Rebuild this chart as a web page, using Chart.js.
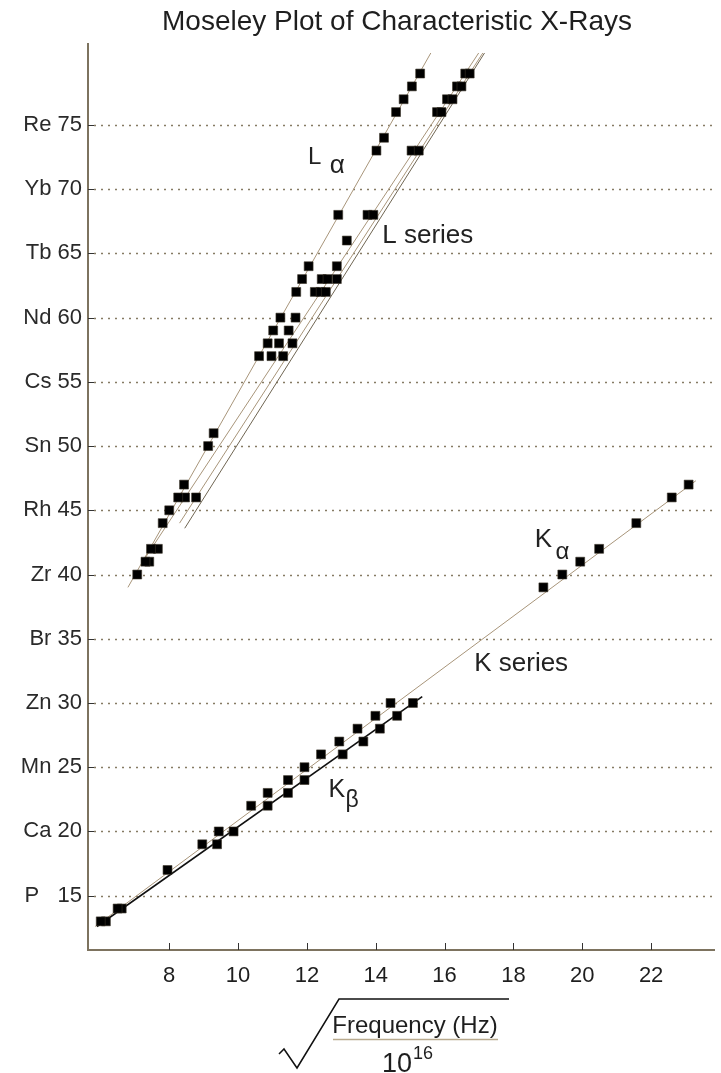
<!DOCTYPE html>
<html>
<head>
<meta charset="utf-8">
<title>Moseley Plot</title>
<script src="https://cdn.jsdelivr.net/npm/chart.js@4.4.1/dist/chart.umd.min.js"></script>
<style>
  html, body { margin: 0; padding: 0; background: #fff; }
  canvas { display: block; }
</style>
</head>
<body>
<canvas id="moseley" width="721" height="1073"></canvas>
<script>
// x = sqrt(frequency / 1e16), y = atomic number Z
const kAlphaX = [6.01, 6.50, 7.95, 8.96, 9.44, 10.38, 10.86, 11.45, 11.93, 12.41, 12.94, 13.47, 13.99, 14.43, 18.87, 19.42, 19.94, 20.49, 21.57, 22.60, 23.09];
const kAlphaZ = [13, 14, 17, 19, 20, 22, 23, 24, 25, 26, 27, 28, 29, 30, 39, 40, 41, 42, 44, 46, 47];

const kBetaX = [6.16, 6.62, 9.39, 9.87, 10.86, 11.45, 11.93, 13.04, 13.64, 14.12, 14.62, 15.08];
const kBetaZ = [13, 14, 19, 20, 22, 23, 24, 26, 27, 28, 29, 30];

const lAlphaX = [7.07, 7.31, 7.47, 7.81, 8.00, 8.26, 8.43, 9.13, 9.29, 10.61, 10.86, 11.02, 11.23, 11.69, 11.86, 12.05, 12.91, 14.02, 14.24, 14.59, 14.81, 15.05, 15.29];
const lAlphaZ = [40, 41, 42, 44, 45, 46, 47, 50, 51, 57, 58, 59, 60, 62, 63, 64, 68, 73, 74, 76, 77, 78, 79];

const lBetaX = [7.42, 7.67, 8.46, 8.78, 10.97, 11.31, 11.19, 11.58, 11.47, 11.67, 12.23, 12.40, 12.55, 12.43, 12.60, 12.87, 12.87, 13.16, 13.76, 13.93, 15.04, 15.25, 15.78, 15.91, 16.07, 16.23, 16.36, 16.49, 16.60, 16.73];
const lBetaZ = [41, 42, 46, 46, 57, 57, 58, 58, 59, 60, 62, 62, 62, 63, 63, 63, 64, 66, 68, 68, 73, 73, 76, 76, 77, 77, 78, 78, 79, 79];

// fitted straight lines (two end points each)
const kAlphaFitX = [5.85, 23.30];
const kAlphaFitZ = [12.6, 47.3];
const kBetaFitX = [5.90, 15.35];
const kBetaFitZ = [12.6, 30.5];
const lAlphaFitX = [6.80, 15.60];
const lAlphaFitZ = [39.0, 80.6];
const lBeta1FitX = [7.23, 16.99];
const lBeta1FitZ = [41.0, 80.6];
const lBeta2FitX = [8.30, 17.11];
const lBeta2FitZ = [44.0, 80.6];
const lGammaFitX = [8.45, 17.16];
const lGammaFitZ = [43.6, 80.6];

const xTickValues = [8, 10, 12, 14, 16, 18, 20, 22];
const yTickValues = [15, 20, 25, 30, 35, 40, 45, 50, 55, 60, 65, 70, 75];
const yTickLabels = ['P   15', 'Ca 20', 'Mn 25', 'Zn 30', 'Br 35', 'Zr 40', 'Rh 45', 'Sn 50', 'Cs 55', 'Nd 60', 'Tb 65', 'Yb 70', 'Re 75'];

const FONT = "'Liberation Sans', Arial, Helvetica, sans-serif";
const LINE_TAN = '#a8957a';

function pts(xs, ys) {
  return xs.map((v, i) => ({ x: v, y: ys[i] }));
}

function pointSet(xs, ys) {
  return {
    data: pts(xs, ys),
    showLine: false,
    pointStyle: 'rect',
    pointRadius: 6.3,
    backgroundColor: '#000',
    borderColor: '#3a3428',
    borderWidth: 0.6,
    order: 1
  };
}

function fitLine(xs, ys, color, width) {
  return {
    data: pts(xs, ys),
    showLine: true,
    pointRadius: 0,
    borderColor: color,
    borderWidth: width,
    fill: false,
    order: 2
  };
}

function drawText(ctx, text, px, py, size, align) {
  ctx.font = size + 'px ' + FONT;
  ctx.textAlign = align || 'left';
  ctx.textBaseline = 'alphabetic';
  ctx.fillText(text, px, py);
}

const moseleyDecor = {
  id: 'moseleyDecor',
  beforeDatasetsDraw(chart) {
    const { ctx, chartArea, scales } = chart;
    ctx.save();
    ctx.beginPath();
    ctx.rect(chartArea.left, chartArea.top, chartArea.right - chartArea.left, chartArea.bottom - chartArea.top);
    ctx.clip();
    ctx.strokeStyle = '#867b64';
    ctx.lineWidth = 1.5;
    ctx.setLineDash([2, 5]);
    yTickValues.forEach(v => {
      const py = Math.round(scales.y.getPixelForValue(v)) + 0.5;
      ctx.beginPath();
      ctx.moveTo(chartArea.left + 6, py);
      ctx.lineTo(chartArea.right, py);
      ctx.stroke();
    });
    ctx.restore();
  },
  afterDraw(chart) {
    const { ctx, chartArea, scales } = chart;
    const x = scales.x, y = scales.y;
    ctx.save();

    // inward tick marks
    ctx.strokeStyle = '#333';
    ctx.lineWidth = 1;
    xTickValues.forEach(v => {
      const px = Math.round(x.getPixelForValue(v)) + 0.5;
      ctx.beginPath();
      ctx.moveTo(px, chartArea.bottom);
      ctx.lineTo(px, chartArea.bottom - 7);
      ctx.stroke();
    });
    yTickValues.forEach(v => {
      const py = Math.round(y.getPixelForValue(v)) + 0.5;
      ctx.beginPath();
      ctx.moveTo(chartArea.left, py);
      ctx.lineTo(chartArea.left + 6, py);
      ctx.stroke();
    });

    // title
    ctx.fillStyle = '#1e1e1e';
    ctx.font = '28px ' + FONT;
    ctx.textAlign = 'center';
    ctx.textBaseline = 'middle';
    ctx.fillText('Moseley Plot of Characteristic X-Rays', 397, 22);

    // series labels, placed in data space
    ctx.fillStyle = '#222';
    const at = (vx, vy) => [x.getPixelForValue(vx), y.getPixelForValue(vy)];
    let p;
    p = at(12.03, 71.96); drawText(ctx, 'L', p[0], p[1], 24);
    p = at(12.66, 71.26); drawText(ctx, 'α', p[0], p[1], 26);
    p = at(14.19, 65.81); drawText(ctx, 'L series', p[0], p[1], 26);
    p = at(18.62, 42.15); drawText(ctx, 'K', p[0], p[1], 26);
    p = at(19.22, 41.22); drawText(ctx, 'α', p[0], p[1], 24);
    p = at(16.86, 32.49); drawText(ctx, 'K series', p[0], p[1], 26);
    p = at(12.63, 22.68); drawText(ctx, 'K', p[0], p[1], 25);
    p = at(13.12, 21.90); drawText(ctx, 'β', p[0], p[1], 23);

    // x axis title: sqrt( Frequency (Hz) / 10^16 )
    ctx.strokeStyle = '#111';
    ctx.lineWidth = 1.5;
    ctx.beginPath();
    ctx.moveTo(279, 1054);
    ctx.lineTo(284, 1049);
    ctx.lineTo(297, 1068);
    ctx.lineTo(339, 999);
    ctx.lineTo(509, 999);
    ctx.stroke();
    ctx.strokeStyle = '#b9aa8e';
    ctx.beginPath();
    ctx.moveTo(333, 1039.5);
    ctx.lineTo(498, 1039.5);
    ctx.stroke();
    ctx.fillStyle = '#1e1e1e';
    drawText(ctx, 'Frequency (Hz)', 415, 1033, 24, 'center');
    drawText(ctx, '10', 382, 1072, 27);
    drawText(ctx, '16', 413, 1059, 18);

    ctx.restore();
  }
};

new Chart(document.getElementById('moseley'), {
  type: 'scatter',
  data: {
    datasets: [
      fitLine(kAlphaFitX, kAlphaFitZ, LINE_TAN, 1),
      fitLine(kBetaFitX, kBetaFitZ, '#111', 1.6),
      fitLine(lAlphaFitX, lAlphaFitZ, LINE_TAN, 1),
      fitLine(lBeta1FitX, lBeta1FitZ, LINE_TAN, 1),
      fitLine(lBeta2FitX, lBeta2FitZ, LINE_TAN, 1),
      fitLine(lGammaFitX, lGammaFitZ, '#6f6552', 1),
      pointSet(kAlphaX, kAlphaZ),
      pointSet(kBetaX, kBetaZ),
      pointSet(lAlphaX, lAlphaZ),
      pointSet(lBetaX, lBetaZ)
    ]
  },
  options: {
    responsive: false,
    animation: false,
    devicePixelRatio: 1,
    layout: { padding: { top: 44, right: 1, left: 0, bottom: 0 } },
    plugins: {
      legend: { display: false },
      tooltip: { enabled: false },
      title: { display: false }
    },
    scales: {
      x: {
        type: 'linear',
        min: 5.64,
        max: 23.83,
        afterFit(scale) { scale.height = 123; },
        afterBuildTicks(scale) { scale.ticks = xTickValues.map(v => ({ value: v })); },
        grid: { display: true, drawOnChartArea: false, drawTicks: false },
        border: { display: true, color: '#7d735f', width: 2 },
        ticks: {
          padding: 13,
          color: '#1e1e1e',
          font: { family: FONT, size: 22 },
          maxRotation: 0,
          autoSkip: false
        }
      },
      y: {
        type: 'linear',
        min: 10.77,
        max: 81.3,
        afterFit(scale) { scale.width = 88; },
        afterBuildTicks(scale) { scale.ticks = yTickValues.map(v => ({ value: v })); },
        grid: { display: true, drawOnChartArea: false, drawTicks: false },
        border: { display: true, color: '#7d735f', width: 2 },
        ticks: {
          padding: 6,
          color: '#2a2a2a',
          font: { family: FONT, size: 22 },
          autoSkip: false,
          callback: function (value) {
            const i = yTickValues.indexOf(value);
            return i >= 0 ? yTickLabels[i] : '';
          }
        }
      }
    }
  },
  plugins: [moseleyDecor]
});
</script>
</body>
</html>
